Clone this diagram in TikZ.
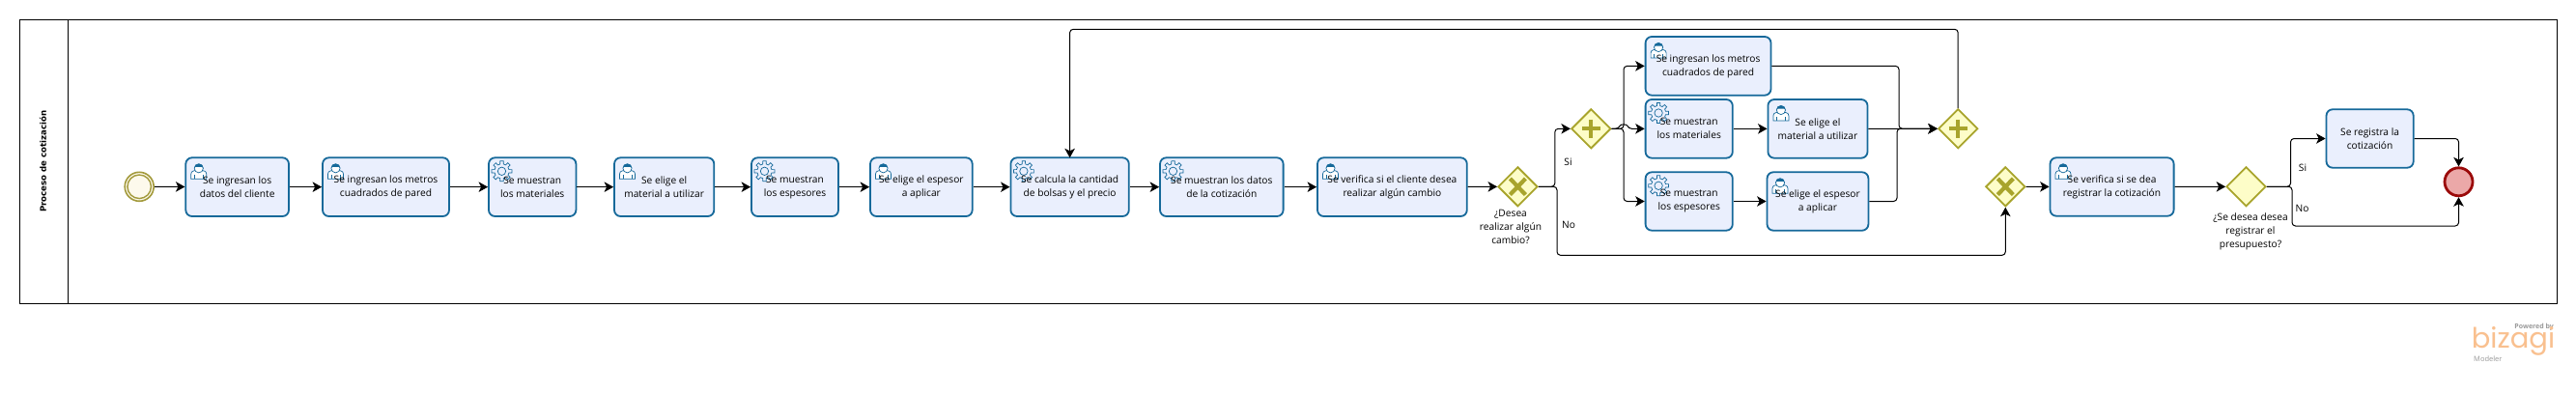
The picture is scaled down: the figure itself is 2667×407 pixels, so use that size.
\documentclass[tikz,border=0pt]{standalone}
\usepackage{fontspec}
\setmainfont{Open Sans}
\newfontfamily\lanefont{DejaVu Sans}
\newfontfamily\logofont{Poppins}
\usetikzlibrary{arrows.meta,shapes.geometric}
\definecolor{taskline}{HTML}{16699A}
\definecolor{taskfill}{HTML}{EAEFFD}
\definecolor{gateline}{HTML}{A8A42C}
\definecolor{gatefill}{HTML}{FDFDC8}
\definecolor{startline}{HTML}{A39A3C}
\definecolor{startfill}{HTML}{FDF9EC}
\definecolor{endline}{HTML}{9B0A0A}
\definecolor{endfill}{HTML}{EBA8A8}
\tikzset{
  x=1pt,y=-1pt,
  taskbox/.style={draw=taskline,fill=taskfill,line width=1.8pt,rounded corners=6.5pt,inner sep=0pt},
  tasktext/.style={inner sep=0pt,align=center,font=\fontsize{10.2}{14}\selectfont},
  gate/.style={diamond,aspect=1,draw=gateline,fill=gatefill,line width=1.8pt,minimum width=41pt,minimum height=41pt,inner sep=0pt},
  flow/.style={draw=black,line width=1pt,rounded corners=3.5pt,-{Stealth[length=9.5pt,width=10.5pt,inset=2.5pt]}},
  plainlabel/.style={inner sep=0pt,align=center,font=\fontsize{10.2}{14}\selectfont},
  marker/.style={line width=4.2pt,draw=gateline},
  iconline/.style={draw=taskline,line width=0.7pt},
  pics/usericon/.style={code={
    \draw[iconline,fill=white] (-8,8) -- (-8,3) .. controls (-8,-1) and (-4,0) .. (-3,-1) -- (3,-1) .. controls (4,0) and (8,-1) .. (8,3) -- (8,8) -- cycle;
    \draw[iconline,fill=white] (0,-3) circle[radius=4.6pt];
    \fill[taskline] (-4.6,-3.5) .. controls (-4.6,-9) and (4.6,-9) .. (4.6,-3.5) -- (3.2,-4.5) -- (-3.2,-4.5) -- cycle;
    \draw[iconline] (-4.5,8) -- (-4.5,4) (4.5,8) -- (4.5,4);
  }},
  pics/gearicon/.style={code={
    \draw[iconline] (-13:7.6)
      \foreach \a in {0,45,...,315}{
        -- (\a-13:7.6) -- (\a-9:10.6) -- (\a+9:10.6) -- (\a+13:7.6)
      } -- cycle;
    \draw[iconline] (0,0) circle[radius=4.2pt];
  }},
}
% name, x1, x2, y1, y2, text, icon
\newcommand{\taskat}[7]{%
  \node[taskbox,minimum width={#3-#2},minimum height={#5-#4}] (#1) at ({(#2+#3)/2},{(#4+#5)/2}) {};
  \ifx&#7&\else\pic at ({#2+13.5},{#4+14}) {#7};\fi
  \node[tasktext] (#1text) at (#1.center) {#6};
}
\begin{document}
\begin{tikzpicture}
\useasboundingbox[fill=white] (0,0) rectangle (2667,407);
% pool
\node[draw=black,line width=1pt,minimum width=2627pt,minimum height=294pt,inner sep=0pt] (pool) at (1334,167) {};
\coordinate (lanetop) at (70.5,20);
\coordinate (lanebot) at (70.5,314);
\draw[black,line width=1pt] (lanetop) -- (lanebot);
\node[rotate=90,inner sep=0pt,font=\lanefont\bfseries\fontsize{8.6}{10}\selectfont] (lane) at (44.6,167) {Proceso de cotización};
% events
\node[circle,draw=startline,fill=startfill,line width=1.6pt,minimum size=30pt,inner sep=0pt] (start) at (144.2,193.3) {};
\node[circle,draw=startline,line width=1.4pt,minimum size=24.5pt,inner sep=0pt] (startin) at (144.2,193.3) {};
\node[circle,draw=endline,fill=endfill,line width=2.8pt,minimum size=29pt,inner sep=0pt] (end) at (2545.5,188.3) {};
% tasks
\taskat{t1}{192.3}{299}{163.3}{224}{Se ingresan los\\datos del cliente}{usericon}
\taskat{t2}{334}{465}{163.3}{224}{Se ingresan los metros\\cuadrados de pared}{usericon}
\taskat{t3}{506}{596.4}{163.3}{224}{Se muestran\\los materiales}{gearicon}
\taskat{t4}{636}{739.3}{163.3}{224}{Se elige el\\material a utilizar}{usericon}
\taskat{t5}{778}{868}{163.3}{224}{Se muestran\\los espesores}{gearicon}
\taskat{t6}{901}{1006.7}{163.3}{224}{Se elige el espesor\\a aplicar}{usericon}
\taskat{t7}{1046.4}{1168.8}{163.3}{224}{Se calcula la cantidad\\de bolsas y el precio}{gearicon}
\taskat{t8}{1201}{1328.6}{163.3}{224}{Se muestran los datos\\de la cotización}{gearicon}
\taskat{t9}{1364}{1518.8}{163.3}{224}{Se verifica si el cliente desea\\realizar algún cambio}{usericon}
\taskat{t10}{1703.6}{1833.5}{38}{98.7}{Se ingresan los metros\\cuadrados de pared}{usericon}
\taskat{t11}{1703.6}{1793.8}{103}{163.7}{Se muestran\\los materiales}{gearicon}
\taskat{t12}{1830.4}{1933.5}{103}{163.7}{Se elige el\\material a utilizar}{usericon}
\taskat{t13}{1703.6}{1793.8}{178.3}{238.7}{Se muestran\\los espesores}{gearicon}
\taskat{t14}{1829.5}{1934.4}{178.3}{238.7}{Se elige el espesor\\a aplicar}{usericon}
\taskat{t15}{2122.5}{2250.6}{163.3}{223.7}{Se verifica si se dea\\registrar la cotización}{usericon}
\taskat{t16}{2408.5}{2498.7}{113.3}{173.7}{Se registra la\\cotización}{}
% gateways
\node[gate] (g1) at (1571.4,193.3) {};
\draw[marker] (1563.4,185) -- (1579.4,201.6) (1579.4,185) -- (1563.4,201.6);
\node[gate] (g2) at (1647.3,133.3) {};
\draw[marker] (1637.8,133.3) -- (1656.8,133.3) (1647.3,123.8) -- (1647.3,142.8);
\node[gate] (g3) at (2027.2,133.3) {};
\draw[marker] (2017.7,133.3) -- (2036.7,133.3) (2027.2,123.8) -- (2027.2,142.8);
\node[gate] (g4) at (2076.3,193.3) {};
\draw[marker] (2068.3,185) -- (2084.3,201.6) (2084.3,185) -- (2068.3,201.6);
\node[gate] (g5) at (2325.5,193.3) {};
% waypoints
\coordinate (loopr) at (2027.2,30.3);
\coordinate (loopl) at (1107.6,30.3);
\coordinate (t7top) at (1107.6,163.3);
\coordinate (w1a) at (1609.8,193.3);
\coordinate (w1b) at (1609.8,133.3);
\coordinate (w2a) at (1612,193.3);
\coordinate (w2b) at (1612,264.3);
\coordinate (w2c) at (2076.3,264.3);
\coordinate (j1) at (1681,133.3);
\coordinate (j2) at (1681,68.4);
\coordinate (j3) at (1681,208.5);
\coordinate (j4) at (1676,133.3);
\coordinate (j5) at (1686,133.3);
\coordinate (m1) at (1966,68.4);
\coordinate (m2) at (1966,133.3);
\coordinate (m3) at (1964,208.5);
\coordinate (m4) at (1964,133.3);
\coordinate (r1) at (2371.5,193.3);
\coordinate (r2) at (2371.5,143.5);
\coordinate (r3) at (2373,193.3);
\coordinate (r4) at (2373,234);
\coordinate (r5) at (2545.5,234);
\coordinate (r6) at (2545.5,143.5);
% flows
\draw[flow] (start) -- (t1);
\draw[flow] (t1) -- (t2);
\draw[flow] (t2) -- (t3);
\draw[flow] (t3) -- (t4);
\draw[flow] (t4) -- (t5);
\draw[flow] (t5) -- (t6);
\draw[flow] (t6) -- (t7);
\draw[flow] (t7) -- (t8);
\draw[flow] (t8) -- (t9);
\draw[flow] (t9) -- (g1);
\draw[flow] (g3.north) -- (loopr) -- (loopl) -- (t7top);
\draw[flow] (g1.east) -- (w1a) -- (w1b) -- (g2.west);
\draw[flow] (g1.east) -- (w2a) -- (w2b) -- (w2c) -- (g4.south);
\draw[flow] (g2.east) -- (j1) -- (j2) -- (t10.west);
\draw[flow] (g2.east) -- (j4) .. controls (1678,128.5) and (1684,128.5) .. (j5) -- (t11.west);
\draw[flow] (g2.east) -- (j1) -- (j3) -- (t13.west);
\draw[flow] (t11) -- (t12);
\draw[flow] (t13) -- (t14);
\draw[flow] (t10.east) -- (m1) -- (m2) -- (g3.west);
\draw[flow] (t12) -- (g3);
\draw[flow] (t14.east) -- (m3) -- (m4) -- (g3.west);
\draw[flow] (g4) -- (t15);
\draw[flow] (t15) -- (g5);
\draw[flow] (g5.east) -- (r1) -- (r2) -- (t16.west);
\draw[flow] (g5.east) -- (r3) -- (r4) -- (r5) -- (end.south);
\draw[flow] (t16.east) -- (r6) -- (end.north);
% labels
\node[plainlabel] (q1) at (1564,235) {¿Desea\\realizar algún\\cambio?};
\node[plainlabel] (q2) at (2330,240) {¿Se desea desea\\registrar el\\presupuesto?};
\node[plainlabel] (si1) at (1623.5,168) {Si};
\node[plainlabel] (no1) at (1624,233) {No};
\node[plainlabel] (si2) at (2384,174) {Si};
\node[plainlabel] (no2) at (2383.5,216) {No};
% logo
\node[inner sep=0pt,anchor=east,text=black!40,font=\bfseries\fontsize{7}{8}\selectfont] (pw) at (2644,339) {Powered by};
\node[inner sep=0pt,text={rgb,255:red,249;green,192;blue,143},font=\logofont\fontsize{29}{29}\selectfont] (bz) at (2602,353) {bizagi};
\node[inner sep=0pt,anchor=west,text=black!40,font=\fontsize{7.5}{8}\selectfont] (mod) at (2561,372) {Modeler};
\end{tikzpicture}
\end{document}
